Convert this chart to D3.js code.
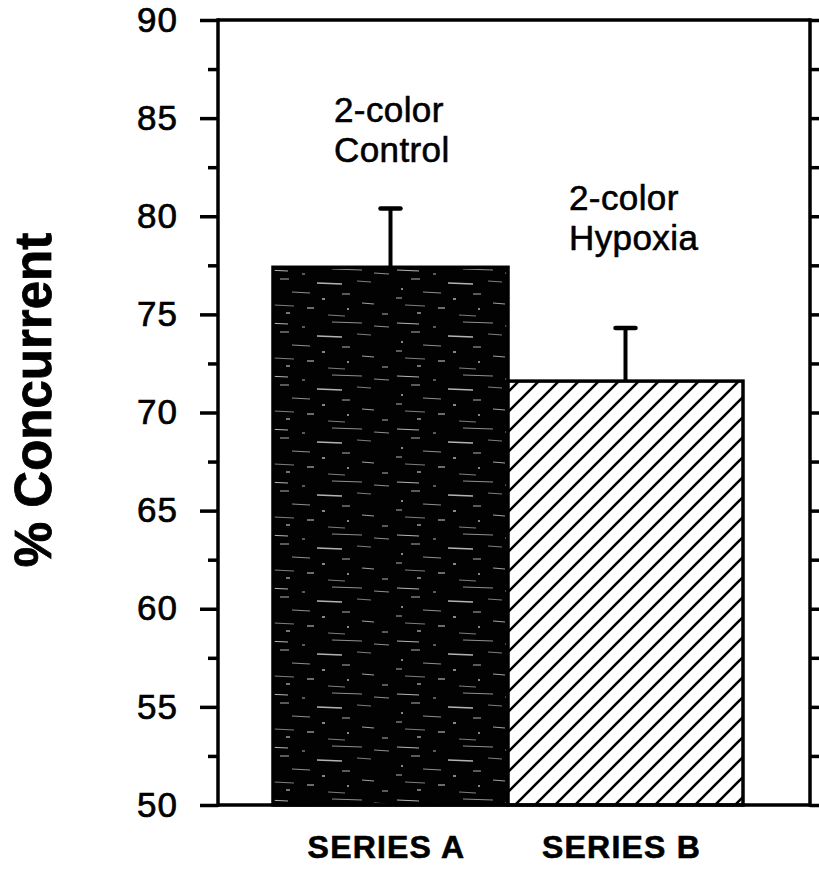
<!DOCTYPE html>
<html>
<head>
<meta charset="utf-8">
<script src="https://cdn.jsdelivr.net/npm/d3@7"></script>
<style>
  html, body { margin: 0; padding: 0; background: #fff; }
  svg text { font-family: "Liberation Sans", Arial, Helvetica, sans-serif; fill: #000; }
</style>
</head>
<body>
<div id="chart"></div>
<script>
// chart data
const categories = ['SERIES A', 'SERIES B'];
const values = [77.4, 71.6];
const errors = [3.0, 2.7];
const barLabels = [['2-color', 'Control'], ['2-color', 'Hypoxia']];
const labelLevels = [84.8, 80.3];   // where each label's first line sits (y units)
const majorTicks = [50, 55, 60, 65, 70, 75, 80, 85, 90];
const minorTicks = [52.5, 57.5, 62.5, 67.5, 72.5, 77.5, 82.5, 87.5];
const yTitle = '% Concurrent';

const W = 819, H = 884;
const plotL = 218, plotR = 810, plotT = 20, plotB = 805;

const svg = d3.select('#chart').append('svg')
  .attr('width', W).attr('height', H);

const y = d3.scaleLinear().domain([50, 90]).range([plotB, plotT]);
const x = d3.scaleBand().domain(categories).range([273, 743]).paddingInner(0);

// fills: speckled black for A, diagonal hatch for B
const defs = svg.append('defs');
const speck = defs.append('pattern')
  .attr('id', 'speck').attr('patternUnits', 'userSpaceOnUse')
  .attr('width', 131).attr('height', 53);
speck.append('rect').attr('width', 131).attr('height', 53).attr('fill', '#020202');
[[4,5,22,1.2],[40,9,3,1],[70,4,30,0.8],[18,14,9,1],[55,18,25,1.3],[95,16,14,0.7],[8,24,2,1.5],
 [30,27,18,0.8],[80,29,8,1],[60,34,3,1.5],[100,38,12,0.9],[12,40,20,0.7],[45,43,7,1.2],
 [85,44,2,1.5],[3,33,6,1],[112,8,15,0.8],[120,49,6,1],[66,50,17,0.7],[24,48,4,1.3]]
  .forEach(([sx, sy, len, w]) => speck.append('line')
    .attr('x1', sx).attr('x2', sx + len).attr('y1', sy).attr('y2', sy + (len > 10 ? 1 : 0))
    .attr('stroke', '#fff').attr('stroke-width', w).attr('opacity', 0.7));

const hatch = defs.append('pattern')
  .attr('id', 'hatch').attr('patternUnits', 'userSpaceOnUse')
  .attr('width', 20).attr('height', 20);
hatch.append('rect').attr('width', 20).attr('height', 20).attr('fill', '#fff');
hatch.append('path')
  .attr('d', 'M-5,5 L5,-5 M0,20 L20,0 M15,25 L25,15')
  .attr('stroke', '#000').attr('stroke-width', 2.6);

const fills = ['url(#speck)', 'url(#hatch)'];

// bars
svg.append('g').selectAll('rect')
  .data(categories)
  .join('rect')
    .attr('x', d => x(d))
    .attr('y', (d, i) => y(values[i]))
    .attr('width', x.bandwidth())
    .attr('height', (d, i) => y(50) - y(values[i]))
    .attr('fill', (d, i) => fills[i])
    .attr('stroke', '#000').attr('stroke-width', 3.5);

// error bars (upper only)
const eb = svg.append('g').selectAll('g')
  .data(categories)
  .join('g');
eb.append('line')
  .attr('x1', d => x(d) + x.bandwidth() / 2)
  .attr('x2', d => x(d) + x.bandwidth() / 2)
  .attr('y1', (d, i) => y(values[i]))
  .attr('y2', (d, i) => y(values[i] + errors[i]))
  .attr('stroke', '#000').attr('stroke-width', 4);
eb.append('line')
  .attr('x1', d => x(d) + x.bandwidth() / 2 - 10)
  .attr('x2', d => x(d) + x.bandwidth() / 2 + 10)
  .attr('y1', (d, i) => y(values[i] + errors[i]))
  .attr('y2', (d, i) => y(values[i] + errors[i]))
  .attr('stroke', '#000').attr('stroke-width', 4.5).attr('stroke-linecap', 'round');

// bar labels
svg.append('g').selectAll('text')
  .data(categories)
  .join('text')
    .attr('x', d => x(d) + 61)
    .attr('y', (d, i) => y(labelLevels[i]))
    .attr('font-size', 35).attr('letter-spacing', 0.4)
    .attr('stroke', '#000').attr('stroke-width', 0.6)
    .each(function(d, i) {
      d3.select(this).selectAll('tspan')
        .data(barLabels[i])
        .join('tspan')
          .attr('x', x(d) + 61)
          .attr('dy', (t, j) => j ? 40 : 0)
          .text(t => t);
    });

// axes
const axisLeft = svg.append('g').attr('transform', `translate(${plotL},0)`)
  .call(d3.axisLeft(y).tickValues(majorTicks).tickSize(18).tickPadding(22).tickFormat(d3.format('d')));
svg.append('g').attr('transform', `translate(${plotL},0)`)
  .call(d3.axisLeft(y).tickValues(minorTicks).tickSize(10).tickFormat(''));
svg.append('g').attr('transform', `translate(${plotR},0)`)
  .call(d3.axisRight(y).tickValues(majorTicks.concat(minorTicks)).tickSize(12).tickFormat(''));

svg.selectAll('.domain').remove();
svg.selectAll('.tick line').attr('stroke', '#000').attr('stroke-width', 3.5);
axisLeft.selectAll('.tick text')
  .attr('font-size', 35).attr('letter-spacing', 1)
  .attr('stroke', '#000').attr('stroke-width', 0.7)
  .attr('font-family', '"Liberation Sans", Arial, sans-serif');

// frame
const frame = svg.append('g').attr('stroke', '#000').attr('stroke-width', 3.5).attr('fill', 'none');
frame.append('line').attr('x1', plotL).attr('x2', plotL).attr('y1', plotT - 1.75).attr('y2', plotB + 1.75);
frame.append('line').attr('x1', plotR).attr('x2', plotR).attr('y1', plotT - 1.75).attr('y2', plotB + 1.75);
frame.append('line').attr('x1', plotL).attr('x2', plotR).attr('y1', plotT).attr('y2', plotT);
frame.append('line').attr('x1', plotL).attr('x2', plotR).attr('y1', plotB).attr('y2', plotB);

// category labels
svg.append('g').selectAll('text')
  .data(categories)
  .join('text')
    .attr('x', d => x(d) + x.bandwidth() / 2 - 4)
    .attr('y', 858)
    .attr('text-anchor', 'middle')
    .attr('font-size', 32).attr('font-weight', 'bold').attr('letter-spacing', 1.2)
    .attr('stroke', '#000').attr('stroke-width', 0.6)
    .text(d => d);

// y title
svg.append('text')
  .attr('transform', `translate(51,400) rotate(-90)`)
  .attr('text-anchor', 'middle')
  .attr('font-size', 51).attr('font-weight', 'bold')
  .attr('stroke', '#000').attr('stroke-width', 0.8)
  .text(yTitle);
</script>
</body>
</html>
